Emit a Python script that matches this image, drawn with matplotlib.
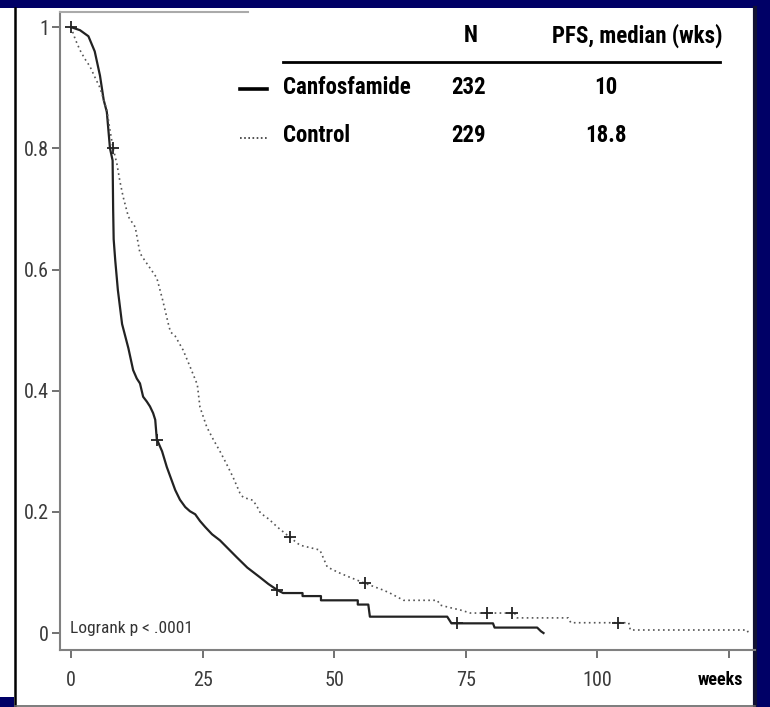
import matplotlib
matplotlib.use('Agg')
import matplotlib.pyplot as plt
from matplotlib import font_manager
from matplotlib.patches import Rectangle
from matplotlib.lines import Line2D

# Canfosfamide arm (solid): corners of the curve
canf_t = [0, 1.7, 3.3, 4.5, 5.0, 5.5, 6.2, 6.8, 7.4, 7.9, 8.0, 8.1, 8.4, 8.9, 9.7, 10.3,
          10.9, 11.8, 12.5, 13.1, 13.7, 14.4, 15.0, 15.6, 16.0, 16.3, 17.3, 18.2, 19.0,
          19.8, 20.7, 21.7, 22.6, 23.6, 24.5, 25.5, 26.8, 28.3, 29.9, 31.5, 33.5, 35.9,
          37.5, 39.2, 40.3, 44.0, 44.0, 47.5, 47.5, 54.5, 54.5, 56.5, 56.8, 71.5, 72.3,
          80.2, 80.5, 88.6, 89.3, 89.8]
canf_s = [1.0, 0.995, 0.985, 0.96, 0.94, 0.92, 0.88, 0.86, 0.80, 0.78, 0.70, 0.65, 0.615,
          0.566, 0.51, 0.49, 0.47, 0.434, 0.42, 0.412, 0.39, 0.382, 0.374, 0.363, 0.352,
          0.32, 0.30, 0.274, 0.255, 0.236, 0.22, 0.208, 0.201, 0.196, 0.185, 0.175, 0.163,
          0.153, 0.139, 0.125, 0.108, 0.092, 0.081, 0.071, 0.066, 0.066, 0.061, 0.061,
          0.054, 0.054, 0.047, 0.047, 0.027, 0.027, 0.016, 0.016, 0.009, 0.009, 0.003, 0.0]
canf_cens_t = [0, 8.0, 16.3, 39.2, 73.4]
canf_cens_s = [1.0, 0.80, 0.318, 0.071, 0.016]

# Control arm (dotted)
ctrl_t = [0, 0.8, 1.7, 2.6, 3.6, 4.5, 5.5, 6.2, 6.8, 7.4, 8.0, 8.7, 9.3, 9.9, 10.9, 12.2,
          13.1, 14.0, 15.2, 16.3, 17.4, 18.5, 18.9, 19.8, 21.3, 22.6, 24.0, 24.5, 25.8,
          27.0, 28.3, 29.5, 30.8, 32.1, 32.7, 34.6, 35.4, 36.0, 37.6, 39.2, 41.6, 43.5,
          47.3, 48.7, 50.8, 53.0, 55.9, 59.3, 60.6, 63.2, 69.6, 70.2, 72.0, 74.0, 75.9,
          84.3, 84.8, 94.5, 95.0, 106.0, 106.3, 128.5, 128.7]
ctrl_s = [1.0, 0.98, 0.962, 0.948, 0.935, 0.918, 0.90, 0.88, 0.863, 0.83, 0.80, 0.775,
          0.745, 0.72, 0.687, 0.67, 0.627, 0.615, 0.60, 0.586, 0.55, 0.51, 0.497, 0.49,
          0.467, 0.44, 0.41, 0.373, 0.34, 0.32, 0.30, 0.28, 0.257, 0.231, 0.224, 0.219,
          0.208, 0.198, 0.188, 0.175, 0.158, 0.145, 0.137, 0.109, 0.10, 0.092, 0.082,
          0.071, 0.066, 0.054, 0.054, 0.046, 0.042, 0.038, 0.033, 0.033, 0.025, 0.025,
          0.017, 0.017, 0.005, 0.005, 0.001]
ctrl_cens_t = [41.6, 55.9, 79.1, 83.8, 104.0]
ctrl_cens_s = [0.158, 0.082, 0.033, 0.033, 0.017]

x_ticks = [0, 25, 50, 75, 100, 125]
x_labels = ['0', '25', '50', '75', '100', '']
y_ticks = [0, 0.2, 0.4, 0.6, 0.8, 1.0]
y_labels = ['0', '0.2', '0.4', '0.6', '0.8', '1']

arms = ['Canfosfamide', 'Control']
arm_n = ['232', '229']
arm_median = ['10', '18.8']

# narrow font if there is one
names = {f.name for f in font_manager.fontManager.ttflist}
font = 'Liberation Sans'
for cand in ['Liberation Sans Narrow', 'Roboto Condensed', 'Arial Narrow']:
    if cand in names:
        font = cand
        break
plt.rcParams['font.family'] = [font, 'DejaVu Sans']

W, H = 770, 707
NAVY = '#000066'


def px(x, y):
    return x / W, 1 - y / H


fig = plt.figure(figsize=(W / 100, H / 100), dpi=100)
fig.patch.set_facecolor(NAVY)

# white slide panel with its borders
fig.add_artist(Rectangle(px(14, 707), 743 / W, 699 / H, transform=fig.transFigure,
                         facecolor='white', edgecolor='none', zorder=-3))
fig.add_artist(Rectangle(px(0, 697), 15 / W, 689 / H, transform=fig.transFigure,
                         facecolor='white', edgecolor='none', zorder=-3))
fig.add_artist(Line2D([15 / W, 15 / W], [0, 1 - 8 / H], transform=fig.transFigure,
                      color='black', lw=1.8, zorder=-2))
fig.add_artist(Line2D([755 / W, 755 / W], [0, 1 - 8 / H], transform=fig.transFigure,
                      color='#111133', lw=3, zorder=-2))
fig.add_artist(Line2D([15 / W, 755 / W], [1 / H, 1 / H], transform=fig.transFigure,
                      color='#666666', lw=1.2, zorder=-2))

ax = fig.add_axes([60 / W, 57 / H, 695 / W, 638 / H])
ax.set_facecolor('none')

ax.plot(canf_t, canf_s, color='#222222', lw=1.6)
ax.plot(ctrl_t, ctrl_s, color='#555555', lw=1.2, linestyle=(0, (1, 2)))
ax.plot(canf_cens_t, canf_cens_s, '+', color='#222222', ms=9, mew=1.3)
ax.plot(ctrl_cens_t, ctrl_cens_s, '+', color='#222222', ms=9, mew=1.3)

ax.set_xlim(-2.1, 130)
ax.set_ylim(-0.028, 1.025)

ax.spines['right'].set_visible(False)
for side in ['left', 'bottom', 'top']:
    ax.spines[side].set_color('#808080')
    ax.spines[side].set_linewidth(1.5)
ax.spines['top'].set_color('#aaaaaa')
ax.spines['top'].set_bounds(-2.1, 33.6)

ax.set_xticks(x_ticks)
ax.set_xticklabels(x_labels)
ax.set_yticks(y_ticks)
ax.set_yticklabels(y_labels)
ax.tick_params(axis='both', direction='out', length=6, width=1.3, color='#666666',
               labelcolor='#3a3a3a', labelsize=14.5)
ax.tick_params(axis='x', pad=9)
ax.tick_params(axis='y', pad=2)

fig.text(*px(70, 628), 'Logrank p < .0001', fontsize=12.5, color='#333333',
         va='center', ha='left')
fig.text(*px(720, 680), 'weeks', fontsize=13, fontweight='bold', va='center', ha='center')

# legend table at the top right
fig.text(*px(471, 36), 'N', fontsize=16.5, fontweight='bold', va='center', ha='center')
fig.text(*px(637, 36), 'PFS, median (wks)', fontsize=16.5, fontweight='bold',
         va='center', ha='center')
fig.add_artist(Line2D([283 / W, 720 / W], [1 - 62 / H, 1 - 62 / H], transform=fig.transFigure,
                      color='black', lw=2))
row_y = [87, 136]
line_styles = [dict(color='black', lw=2.6, linestyle='-'),
               dict(color='#333333', lw=1.2, linestyle=(0, (1, 1.5)))]
for name, n, med, y, st in zip(arms, arm_n, arm_median, row_y, line_styles):
    fig.add_artist(Line2D([240 / W, 267 / W], [1 - (y + 2) / H, 1 - (y + 2) / H],
                          transform=fig.transFigure, **st))
    fig.text(*px(283, y), name, fontsize=16.5, fontweight='bold', va='center', ha='left')
    fig.text(*px(469, y), n, fontsize=16.5, fontweight='bold', va='center', ha='center')
    fig.text(*px(606, y), med, fontsize=16.5, fontweight='bold', va='center', ha='center')

fig.savefig('out.png', dpi=100, facecolor=NAVY)
